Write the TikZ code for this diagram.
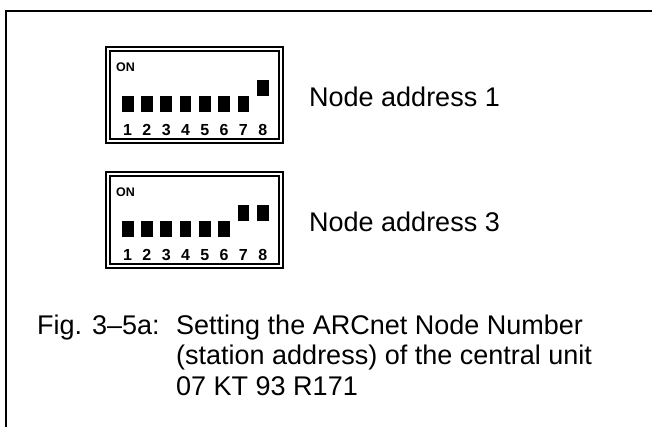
\documentclass[tikz,border=0pt]{standalone}
\usepackage{fontspec}
\setmainfont{Liberation Sans}
\begin{document}
\begin{tikzpicture}[x=1pt,y=-1pt,
  frameline/.style={line width=2pt},
  dipouter/.style={line width=1.1pt},
  dipinner/.style={line width=1.4pt},
  lbl/.style={inner sep=0pt,anchor=base west,font=\fontsize{27}{31}\selectfont},
  onlbl/.style={inner sep=0pt,anchor=base west,font=\fontsize{12.5}{14}\selectfont\bfseries},
  diglbl/.style={inner sep=0pt,anchor=base,font=\fontsize{16}{18}\selectfont\bfseries},
  sw/.style={fill=black}]
\useasboundingbox (0,0) rectangle (652,427);
\draw[frameline] (6,428) -- (6,11) -- (653,11);
% DIP switch 1
\draw[dipouter] (106,47) rectangle (283,143);
\draw[dipinner] (110,51) rectangle (279,139);
\node[onlbl] (on1) at (116,71.7) {ON};
\foreach \i in {1,...,7} {
  \fill[sw] ({121.7+19.3*(\i-1)},96) rectangle ++(11.8,16);
}
\fill[sw] ({121.7+19.3*7},80) rectangle ++(11.8,16);
\foreach \i in {1,...,8} {
  \node[diglbl] (d1\i) at ({127.6+19.3*(\i-1)},135.5) {\i};
}
\node[lbl] (t1) at (309,106.5) {Node address 1};
% DIP switch 2
\draw[dipouter] (106,172) rectangle (283,268);
\draw[dipinner] (110,176) rectangle (279,264);
\node[onlbl] (on2) at (116,196.7) {ON};
\foreach \i in {1,...,6} {
  \fill[sw] ({121.7+19.3*(\i-1)},221) rectangle ++(11.8,16);
}
\foreach \i in {7,8} {
  \fill[sw] ({121.7+19.3*(\i-1)},205) rectangle ++(11.8,16);
}
\foreach \i in {1,...,8} {
  \node[diglbl] (d2\i) at ({127.6+19.3*(\i-1)},260.5) {\i};
}
\node[lbl] (t2) at (309,231.5) {Node address 3};
% caption
\node[lbl] (fig) at (37,334) {Fig. 3–5a:};
\node[lbl] (c1) at (176,334) {Setting the ARCnet Node Number};
\node[lbl] (c2) at (176,364.5) {(station address) of the central unit};
\node[lbl] (c3) at (176,395) {07 KT 93 R171};
\end{tikzpicture}
\end{document}
